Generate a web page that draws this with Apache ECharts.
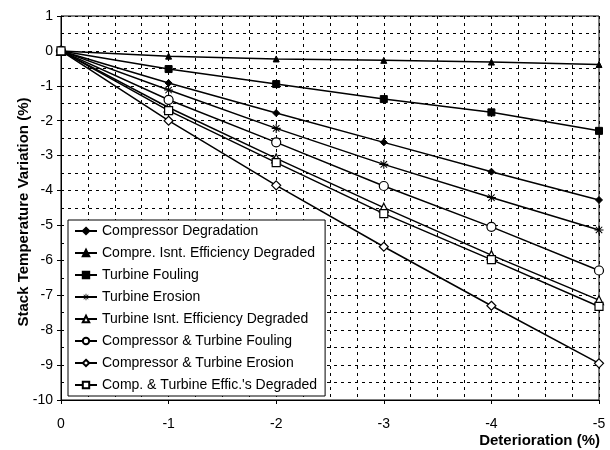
<!DOCTYPE html>
<html>
<head>
<meta charset="utf-8">
<script src="https://cdn.jsdelivr.net/npm/echarts@6/dist/echarts.min.js"></script>
<style>html,body{margin:0;padding:0;background:#fff;}#c{width:610px;height:450px;}</style>
</head>
<body>
<div id="c"></div>
<script>
var xValues = [0, -1, -2, -3, -4, -5];
var seriesNames = [
  'Compressor Degradation',
  'Compre. Isnt. Efficiency Degraded',
  'Turbine Fouling',
  'Turbine Erosion',
  'Turbine Isnt. Efficiency Degraded',
  'Compressor & Turbine Fouling',
  'Compressor & Turbine Erosion',
  "Comp. & Turbine Effic.'s Degraded"
];
var compDeg  = [0, -0.92, -1.78, -2.62, -3.46, -4.27];
var compIsnt = [0, -0.15, -0.23, -0.27, -0.32, -0.39];
var turbFoul = [0, -0.52, -0.95, -1.38, -1.76, -2.29];
var turbEro  = [0, -1.12, -2.22, -3.25, -4.20, -5.13];
var turbIsnt = [0, -1.62, -3.08, -4.49, -5.85, -7.14];
var ctFoul   = [0, -1.40, -2.62, -3.87, -5.04, -6.29];
var ctEro    = [0, -2.00, -3.85, -5.61, -7.30, -8.95];
var ctEff    = [0, -1.71, -3.20, -4.66, -5.98, -7.32];
var yTicks = [1, 0, -1, -2, -3, -4, -5, -6, -7, -8, -9, -10];

var FONT = 'Arial, "Liberation Sans", sans-serif';
var asterisk = 'path://M0 4.4 L10 4.4 L10 5.6 L0 5.6 Z M4.4 0 L5.6 0 L5.6 10 L4.4 10 Z M1 1.8 L1.8 1 L9 8.2 L8.2 9 Z M8.2 1 L9 1.8 L1.8 9 L1 8.2 Z';

var styles = [
  {symbol: 'diamond', size: 7, fill: '#000', bw: 1},
  {symbol: 'triangle', size: 6, fill: '#000', bw: 1},
  {symbol: 'rect', size: 7, fill: '#000', bw: 1},
  {symbol: asterisk, size: 9, fill: '#000', bw: 0},
  {symbol: 'triangle', size: 9, fill: '#fff', bw: 1.2},
  {symbol: 'circle', size: 9, fill: '#fff', bw: 1.2},
  {symbol: 'diamond', size: 9, fill: '#fff', bw: 1.2},
  {symbol: 'rect', size: 8, fill: '#fff', bw: 1.2}
];
var dataSets = [compDeg, compIsnt, turbFoul, turbEro, turbIsnt, ctFoul, ctEro, ctEff];

var series = dataSets.map(function (d, i) {
  var s = styles[i];
  return {
    name: seriesNames[i],
    type: 'line',
    data: xValues.map(function (x, j) { return [x, d[j]]; }),
    symbol: s.symbol,
    symbolSize: s.size,
    showAllSymbol: true,
    lineStyle: {color: '#000', width: 1.5},
    itemStyle: {color: s.fill, borderColor: '#000', borderWidth: s.bw},
    z: 3
  };
});

var chart = echarts.init(document.getElementById('c'), null, {renderer: 'canvas'});
chart.setOption({
  animation: false,
  backgroundColor: '#fff',
  grid: {left: 61, right: 11, top: 16, bottom: 50, show: true, borderColor: '#000', borderWidth: 1, backgroundColor: 'transparent'},
  xAxis: {
    type: 'value', min: -5, max: 0, interval: 1, inverse: true,
    axisLine: {show: true, onZero: false, lineStyle: {color: '#000', width: 1}},
    axisTick: {show: true, length: 4, inside: false, lineStyle: {color: '#000'}},
    axisLabel: {color: '#000', fontFamily: FONT, fontSize: 14, margin: 17},
    splitLine: {show: true, lineStyle: {color: '#000', width: 1, type: [3, 4]}},
    minorTick: {show: false, splitNumber: 4},
    minorSplitLine: {show: true, lineStyle: {color: '#000', width: 1, type: [3, 4]}}
  },
  yAxis: {
    type: 'value', min: -10, max: 1, interval: 1,
    axisLine: {show: true, onZero: false, lineStyle: {color: '#000', width: 1}},
    axisTick: {show: true, length: 4, lineStyle: {color: '#000'}},
    axisLabel: {color: '#000', fontFamily: FONT, fontSize: 14, margin: 8,
      formatter: function (v) { return yTicks.indexOf(v) >= 0 ? String(v) : ''; }},
    splitLine: {show: true, lineStyle: {color: '#000', width: 1, type: [3, 4]}},
    minorTick: {show: false, splitNumber: 2},
    minorSplitLine: {show: true, lineStyle: {color: '#000', width: 1, type: [3, 4]}}
  },
  legend: {
    orient: 'vertical',
    left: 68, top: 220,
    padding: [4, 8, 4, 6],
    itemGap: 8,
    itemWidth: 22, itemHeight: 8,
    backgroundColor: '#fff',
    borderColor: '#000', borderWidth: 1,
    textStyle: {color: '#000', fontFamily: FONT, fontSize: 14},
    data: seriesNames
  },
  graphic: [
    {type: 'text', right: 10, top: 433, style: {text: 'Deterioration (%)', font: 'bold 15px ' + FONT, fill: '#000'}},
    {type: 'text', x: 24, y: 212, rotation: Math.PI / 2,
      style: {text: 'Stack Temperature Variation (%)', font: 'bold 15px ' + FONT, fill: '#000', align: 'center', verticalAlign: 'middle'}}
  ],
  series: series
});
</script>
</body>
</html>
